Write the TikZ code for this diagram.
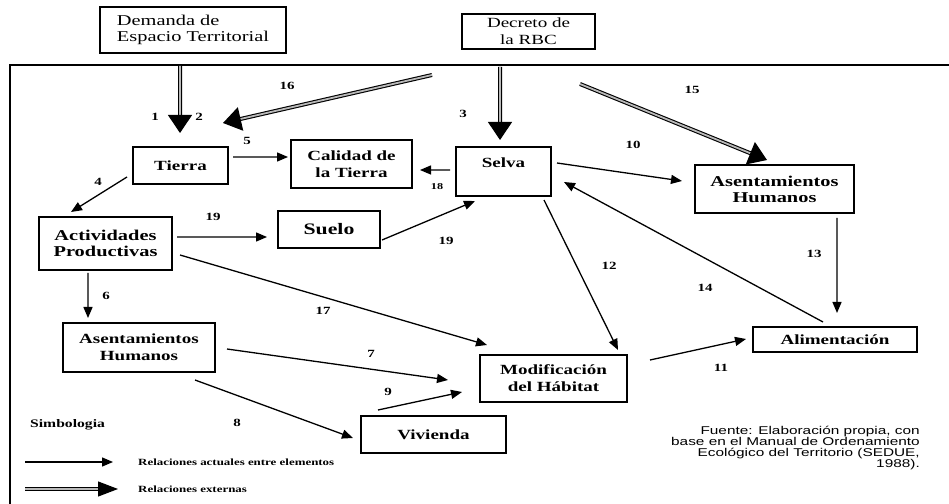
\documentclass[tikz,border=0pt]{standalone}
\usepackage{fontspec}
\setmainfont{Liberation Serif}[FakeStretch=1.36]
\setsansfont{Liberation Sans}[FakeStretch=1.36]
\usetikzlibrary{arrows.meta}
\begin{document}
\begin{tikzpicture}[x=1bp,y=-1bp,
  box/.style={draw, line width=1.3bp, inner sep=0pt, font=\fontsize{14bp}{17bp}\selectfont\bfseries},
  rel/.style={line width=1.3bp, -{Triangle[length=11bp,width=9bp]}},
  ext/.style={line width=1.1bp, double=gray!55, double distance=1.8bp, -{Triangle[length=18bp,width=24bp,color=black,fill=black]}},
  legext/.style={line width=1.1bp, double=gray!55, double distance=1.8bp, -{Triangle[length=20bp,width=15bp,color=black,fill=black]}},
  num/.style={font=\fontsize{11bp}{12bp}\selectfont\bfseries, inner sep=0pt},
  numsmall/.style={font=\fontsize{9bp}{10bp}\selectfont\bfseries, inner sep=0pt},
  legtext/.style={font=\fontsize{9.5bp}{11bp}\selectfont\bfseries, inner sep=0pt, anchor=west},
]
\useasboundingbox (0,0) rectangle (949,504);
% frame
\draw[line width=1.3bp] (949,65) -- (10,65) -- (10,504);
% boxes
\node[box, minimum width=186bp, minimum height=46bp, align=left, font=\fontsize{15bp}{16bp}\selectfont] (dem) at (193,30) {Demanda de\\Espacio Territorial};
\node[box, minimum width=133bp, minimum height=35bp, align=center, font=\fontsize{14bp}{17bp}\selectfont] (dec) at (528.5,31.5) {Decreto de\\la RBC};
\node[box, minimum width=95bp, minimum height=37bp] (tierra) at (180.5,165.5) {Tierra};
\node[box, minimum width=121bp, minimum height=48bp, align=center] (calidad) at (351.5,164) {Calidad de\\la Tierra};
\node[box, minimum width=95bp, text height=21bp, text depth=28bp] (selva) at (503.5,171.5) {Selva};
\node[box, minimum width=159bp, minimum height=48bp, align=center, font=\fontsize{15bp}{16bp}\selectfont\bfseries] (asenR) at (774.5,189) {Asentamientos\\Humanos};
\node[box, minimum width=133bp, minimum height=53bp, align=center, font=\fontsize{15bp}{16bp}\selectfont\bfseries] (activ) at (105.5,243.5) {Actividades\\Productivas};
\node[box, minimum width=102bp, minimum height=37bp, font=\fontsize{16bp}{18bp}\selectfont\bfseries] (suelo) at (329,229.5) {Suelo};
\node[box, minimum width=152bp, minimum height=49bp, align=center] (asenL) at (139,347.5) {Asentamientos\\Humanos};
\node[box, minimum width=147bp, minimum height=47bp, align=center] (modif) at (553.5,378.5) {Modificación\\del Hábitat};
\node[box, minimum width=145bp, minimum height=37bp] (viv) at (433.5,434.5) {Vivienda};
\node[box, minimum width=164bp, minimum height=25bp] (alim) at (835,339.5) {Alimentación};
% current relations
\draw[rel] ([xshift=52.5bp,yshift=8.5bp]tierra.center) -- ([xshift=-63.5bp,yshift=7bp]calidad.center);
\draw[rel] ([xshift=-53.5bp,yshift=-11.5bp]tierra.center) -- ([xshift=-34.5bp,yshift=31.5bp]activ.center);
\draw[rel] ([xshift=71.5bp,yshift=6.5bp]activ.center) -- ([xshift=-62bp,yshift=-7.5bp]suelo.center);
\draw[rel] ([xshift=53bp,yshift=-10.5bp]suelo.center) -- ([xshift=-28.5bp,yshift=-29.5bp]selva.center);
\draw[rel] ([xshift=-53.5bp,yshift=1.5bp]selva.center) -- ([xshift=68.5bp,yshift=-6bp]calidad.center);
\draw[rel] ([xshift=53.5bp,yshift=8.5bp]selva.center) -- ([xshift=-92.5bp,yshift=8bp]asenR.center);
\draw[rel] ([xshift=40.5bp,yshift=-28.5bp]selva.center) -- ([xshift=64.5bp,yshift=28.5bp]modif.center);
\draw[rel] ([xshift=-12bp,yshift=17.5bp]alim.center) -- ([xshift=60.5bp,yshift=-10.5bp]selva.center);
\draw[rel] ([xshift=62.5bp,yshift=-29bp]asenR.center) -- ([xshift=2bp,yshift=26.5bp]alim.center);
\draw[rel] ([xshift=96.5bp,yshift=18.5bp]modif.center) -- ([xshift=-89bp,yshift=0.5bp]alim.center);
\draw[rel] ([xshift=74.5bp,yshift=-11.5bp]activ.center) -- ([xshift=-66.5bp,yshift=33.5bp]modif.center);
\draw[rel] ([xshift=-17.5bp,yshift=-29.5bp]activ.center) -- ([xshift=-51bp,yshift=29.5bp]asenL.center);
\draw[rel] ([xshift=88bp,yshift=-1.5bp]asenL.center) -- ([xshift=-105.5bp,yshift=-1.5bp]modif.center);
\draw[rel] ([xshift=56bp,yshift=-32.5bp]asenL.center) -- ([xshift=-80.5bp,yshift=-3.5bp]viv.center);
\draw[rel] ([xshift=-55.5bp,yshift=24.5bp]viv.center) -- ([xshift=-91.5bp,yshift=-13.5bp]modif.center);
% external relations
\draw[ext] ([xshift=-13bp,yshift=-36bp]dem.center) -- ([xshift=-0.5bp,yshift=32.5bp]tierra.center);
\draw[ext] ([xshift=-96.5bp,yshift=-43.5bp]dec.center) -- ([xshift=42.5bp,yshift=42.5bp]tierra.center);
\draw[ext] ([xshift=-28.5bp,yshift=-35.5bp]dec.center) -- ([xshift=-3.5bp,yshift=31.5bp]selva.center);
\draw[ext] ([xshift=51.5bp,yshift=-52.5bp]dec.center) -- ([xshift=-7.5bp,yshift=29bp]asenR.center);
% numbers
\node[num] (n1) at (155,117) {1};
\node[num] (n2) at (199,117) {2};
\node[num] (n3) at (463,114) {3};
\node[num] (n4) at (98,182) {4};
\node[num] (n5) at (247,141) {5};
\node[num] (n6) at (106,296) {6};
\node[num] (n7) at (371,354) {7};
\node[num] (n8) at (237,423) {8};
\node[num] (n9) at (388,392) {9};
\node[num] (n10) at (633,145) {10};
\node[num] (n11) at (721,368) {11};
\node[num] (n12) at (609,266) {12};
\node[num] (n13) at (814,254) {13};
\node[num] (n14) at (705,288) {14};
\node[num] (n15) at (692,90) {15};
\node[num] (n16) at (287,86) {16};
\node[num] (n17) at (323,311) {17};
\node[numsmall] (n18) at (437,187) {18};
\node[num] (n19a) at (213,217) {19};
\node[num] (n19b) at (446,241) {19};
% legend
\node[font=\fontsize{11.5bp}{13bp}\selectfont\bfseries, inner sep=0pt, anchor=west] (simb) at (30,425) {Simbologia};
\coordinate (la1) at (25,462);
\coordinate (lb1) at (113,462);
\coordinate (la2) at (25,489);
\coordinate (lb2) at (118,489);
\draw[rel] (la1) -- (lb1);
\draw[legext] (la2) -- (lb2);
\node[legtext] (lt1) at (138,462) {Relaciones actuales entre elementos};
\node[legtext] (lt2) at (138,489) {Relaciones externas};
% source
\node[font=\sffamily\fontsize{11.3bp}{10.5bp}\selectfont, align=right, anchor=east, inner sep=0pt] (src) at (920,448) {Fuente: Elaboración propia, con\\base en el Manual de Ordenamiento\\Ecológico del Territorio (SEDUE,\\1988).};
\end{tikzpicture}
\end{document}
